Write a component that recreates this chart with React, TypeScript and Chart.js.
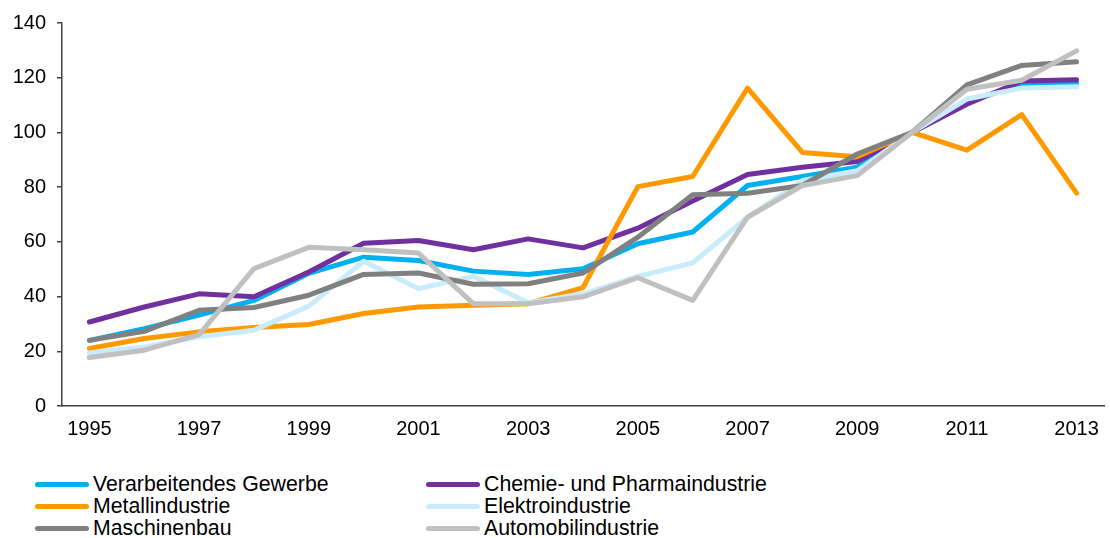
import React, { useEffect, useRef } from 'react';
import { Chart, registerables } from 'chart.js';

Chart.register(...registerables);

const years = ['1995', '1996', '1997', '1998', '1999', '2000', '2001', '2002', '2003', '2004', '2005', '2006', '2007', '2008', '2009', '2010', '2011', '2012', '2013'];
const xTickLabels = ['1995', '1997', '1999', '2001', '2003', '2005', '2007', '2009', '2011', '2013'];
const yMin = 0;
const yMax = 140;
const yStep = 20;

const verarbeitendes = [24, 28.3, 33.2, 38.6, 48.5, 54.4, 53.2, 49.3, 48.1, 50.2, 59.3, 63.6, 80.6, 83.9, 87.3, 100, 111.3, 117.4, 118.2];
const chemie = [30.7, 36.2, 41, 39.9, 49, 59.5, 60.5, 57.1, 61.1, 57.8, 65, 74.9, 84.6, 87.3, 89.4, 100, 110.3, 118.8, 119.3];
const metall = [21, 24.7, 27.1, 28.7, 29.8, 33.8, 36.2, 36.8, 37.4, 43.3, 80.2, 83.9, 116.2, 92.7, 91.1, 100, 93.5, 106.5, 77.8];
const elektro = [19.4, 21.6, 25.3, 27.7, 36.5, 52.9, 42.9, 47.4, 37.7, 41, 47.4, 52.3, 69, 82.4, 86, 100, 112.2, 116.2, 116.7];
const maschinenbau = [24, 27.3, 35, 36, 40.5, 48.1, 48.6, 44.5, 44.7, 48.6, 61.7, 77.2, 77.8, 80.6, 92.1, 100, 117.4, 124.5, 125.8];
const automobil = [17.7, 20.4, 26.1, 50.2, 58, 57.1, 55.9, 37.4, 37.4, 39.9, 46.9, 38.6, 69, 80.6, 84.2, 100, 115.8, 119.1, 129.8];

const seriesNames = ['Verarbeitendes Gewerbe', 'Chemie- und Pharmaindustrie', 'Metallindustrie', 'Elektroindustrie', 'Maschinenbau', 'Automobilindustrie'];
const seriesColors = ['#00B0F0', '#7030A0', '#FF9900', '#C9ECFC', '#808080', '#C0C0C0'];
const seriesData = [verarbeitendes, chemie, metall, elektro, maschinenbau, automobil];

const FONT = 'Arial, "Liberation Sans", Helvetica, sans-serif';

export default function App() {
  const canvasRef = useRef<HTMLCanvasElement | null>(null);

  useEffect(() => {
    if (!canvasRef.current) return;
    const chart = new Chart(canvasRef.current, {
      type: 'line',
      data: {
        labels: years,
        datasets: seriesData.map((d, i) => ({
          label: seriesNames[i],
          data: d,
          borderColor: seriesColors[i],
          backgroundColor: seriesColors[i],
          borderWidth: 5,
          pointRadius: 0,
          pointHoverRadius: 0,
          tension: 0,
          fill: false,
          borderCapStyle: 'round' as const,
          borderJoinStyle: 'round' as const,
          order: seriesData.length - 1 - i,
        })),
      },
      options: {
        animation: false,
        responsive: false,
        maintainAspectRatio: false,
        devicePixelRatio: 1,
        layout: { padding: { top: 22, right: 6, left: 0, bottom: 0 } },
        plugins: {
          legend: { display: false },
          tooltip: { enabled: false },
          title: { display: false },
        },
        scales: {
          x: {
            type: 'category',
            offset: true,
            grid: { display: false, drawTicks: false },
            border: { display: true, color: '#404040', width: 1.5 },
            ticks: {
              autoSkip: false,
              maxRotation: 0,
              minRotation: 0,
              padding: 11,
              color: '#000',
              font: { family: FONT, size: 20 },
              callback: (_v: any, idx: number) => (xTickLabels.includes(years[idx]) ? years[idx] : ''),
            },
            afterFit: (scale: any) => {
              scale.height = 54;
            },
          },
          y: {
            min: yMin,
            max: yMax,
            grid: { display: true, drawOnChartArea: false, drawTicks: true, tickLength: 5, color: '#404040', lineWidth: 1.5 },
            border: { display: true, color: '#404040', width: 1.5 },
            ticks: {
              stepSize: yStep,
              padding: 11,
              color: '#000',
              font: { family: FONT, size: 20 },
            },
            afterFit: (scale: any) => {
              scale.width = 62;
            },
          },
        },
      },
    });
    return () => chart.destroy();
  }, []);

  const legendRows = [
    [0, 1],
    [2, 3],
    [4, 5],
  ];
  const rowY = [484, 506, 528];
  const colLineX = [35, 426];
  const colTextX = [93, 484];

  return (
    <div style={{ position: 'absolute', left: 0, top: 0, width: 1110, height: 538, background: '#fff', overflow: 'hidden' }}>
      <canvas ref={canvasRef} width={1110} height={460} style={{ position: 'absolute', left: 0, top: 0, width: 1110, height: 460 }} />
      {legendRows.map((row, r) =>
        row.map((si, c) => (
          <React.Fragment key={si}>
            <div
              style={{
                position: 'absolute',
                left: colLineX[c],
                top: rowY[r] - 2.5,
                width: 54,
                height: 5,
                borderRadius: 3,
                background: seriesColors[si],
              }}
            />
            <div
              style={{
                position: 'absolute',
                left: colTextX[c],
                top: rowY[r] - 11,
                height: 22,
                lineHeight: '22px',
                fontFamily: FONT,
                fontSize: 21.3,
                color: '#000',
                whiteSpace: 'nowrap',
              }}
            >
              {seriesNames[si]}
            </div>
          </React.Fragment>
        ))
      )}
    </div>
  );
}
